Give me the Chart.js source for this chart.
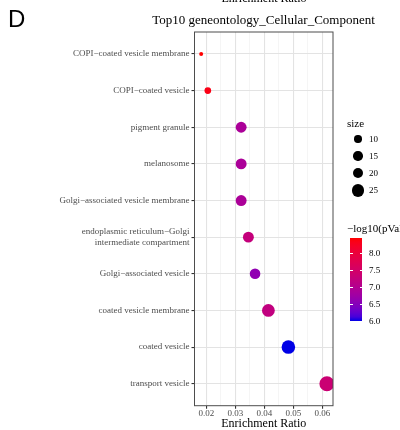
<!DOCTYPE html>
<html>
<head>
<meta charset="utf-8">
<script src="https://cdn.jsdelivr.net/npm/chart.js@4.4.1/dist/chart.umd.min.js"></script>
<style>
  html, body { margin: 0; padding: 0; background: #fff; overflow: hidden; }
  #wrap { position: relative; width: 400px; height: 430px; overflow: hidden; }
  #chart { position: absolute; left: 0; top: 0; }
  .txt { position: absolute; white-space: nowrap; font-family: "Liberation Serif", "Times New Roman", serif; color: #000; }
  .ctr { width: 400px; text-align: center; }
  .dot { position: absolute; background: #000; border-radius: 50%; }
  .tk  { position: absolute; background: #fff; height: 1px; width: 2.5px; }
</style>
</head>
<body>
<div id="wrap">
  <canvas id="chart" width="400" height="430"></canvas>
  <div class="txt ctr" style="left:64px; top:-8.5px; font-size:12px; line-height:12px;">Enrichment Ratio</div>
  <div class="txt" style="left:8px; top:6.7px; font-family:'Liberation Sans',Arial,sans-serif; font-size:24px; line-height:24px;">D</div>
  <div class="txt ctr" style="left:63.5px; top:13px; font-size:13px; line-height:14px;">Top10 geneontology_Cellular_Component</div>
  <div id="legend"></div>
</div>
<script>
// ---- data ----
const categories = [
  'COPI\u2212coated vesicle membrane',
  'COPI\u2212coated vesicle',
  'pigment granule',
  'melanosome',
  'Golgi\u2212associated vesicle membrane',
  'endoplasmic reticulum\u2212Golgi\nintermediate compartment',
  'Golgi\u2212associated vesicle',
  'coated vesicle membrane',
  'coated vesicle',
  'transport vesicle'
];
const enrichRatio = [0.0182, 0.0205, 0.032, 0.032, 0.032, 0.0345, 0.0368, 0.0414, 0.0483, 0.0616];
const geneCount   = [7, 9, 20, 20, 20, 20, 19, 28, 32, 40];
const negLogP     = [8.45, 8.35, 6.9, 6.9, 6.9, 7.25, 6.6, 7.2, 6.0, 7.35];

const xMajorTicks = [0.02, 0.03, 0.04, 0.05, 0.06];
const xMinorTicks = [0.025, 0.035, 0.045, 0.055];
const sizeBreaks  = [10, 15, 20, 25];
const colorBreaks = [6.0, 6.5, 7.0, 7.5, 8.0];

const SERIF = '"Liberation Serif", "Times New Roman", serif';

// ---- size scale (area-like, ggplot style) ----
const sMin = Math.min(...geneCount), sMax = Math.max(...geneCount);
const radius = s => 2 + 5.5 * Math.sqrt(Math.max(0, s - sMin) / (sMax - sMin));

// ---- colour scale: blue -> red interpolated in Lab ----
function hexRgb(h) { return [1, 3, 5].map(i => parseInt(h.substr(i, 2), 16)); }
function rgbLab(rgb) {
  const [r, g, b] = rgb.map(c => { c /= 255; return c <= 0.04045 ? c / 12.92 : Math.pow((c + 0.055) / 1.055, 2.4); });
  const x = (r * 0.4124 + g * 0.3576 + b * 0.1805) / 0.95047;
  const y = (r * 0.2126 + g * 0.7152 + b * 0.0722);
  const z = (r * 0.0193 + g * 0.1192 + b * 0.9505) / 1.08883;
  const f = t => t > 0.008856 ? Math.cbrt(t) : 7.787 * t + 16 / 116;
  const fx = f(x), fy = f(y), fz = f(z);
  return [116 * fy - 16, 500 * (fx - fy), 200 * (fy - fz)];
}
function labRgb([L, a, b]) {
  const fy = (L + 16) / 116, fx = fy + a / 500, fz = fy - b / 200;
  const fi = t => t * t * t > 0.008856 ? t * t * t : (t - 16 / 116) / 7.787;
  const x = fi(fx) * 0.95047, y = fi(fy), z = fi(fz) * 1.08883;
  const lin = [
    x * 3.2406 - y * 1.5372 - z * 0.4986,
    -x * 0.9689 + y * 1.8758 + z * 0.0415,
    x * 0.0557 - y * 0.2040 + z * 1.0570
  ];
  return lin.map(c => {
    c = c <= 0.0031308 ? 12.92 * c : 1.055 * Math.pow(c, 1 / 2.4) - 0.055;
    return Math.round(Math.max(0, Math.min(1, c)) * 255);
  });
}
const lowLab = rgbLab(hexRgb('#0000E6'));
const highLab = rgbLab(hexRgb('#FF0000'));
const pMin = Math.min(...negLogP), pMax = Math.max(...negLogP);
function pColor(v) {
  const t = Math.max(0, Math.min(1, (v - pMin) / (pMax - pMin)));
  return 'rgb(' + labRgb(lowLab.map((c, i) => c + (highLab[i] - c) * t)).join(',') + ')';
}

// ---- panel border (drawn over points like ggplot) ----
const panelBorder = {
  id: 'panelBorder',
  afterDatasetsDraw(chart) {
    const { ctx, chartArea: a } = chart;
    ctx.save();
    ctx.strokeStyle = '#4d4d4d';
    ctx.lineWidth = 1;
    ctx.strokeRect(a.left, a.top, a.right - a.left, a.bottom - a.top);
    ctx.restore();
  }
};

const points = enrichRatio.map((x, i) => ({ x, y: i }));

new Chart(document.getElementById('chart'), {
  type: 'scatter',
  data: {
    datasets: [{
      data: points,
      pointRadius: geneCount.map(radius),
      pointHoverRadius: geneCount.map(radius),
      pointBackgroundColor: negLogP.map(pColor),
      pointBorderWidth: 0,
      clip: 0,
    }]
  },
  options: {
    responsive: false,
    devicePixelRatio: 1,
    animation: false,
    layout: { padding: { top: 32, right: 67, left: 0, bottom: 0 } },
    plugins: { legend: { display: false }, tooltip: { enabled: false } },
    scales: {
      x: {
        type: 'linear',
        min: 0.0159,
        max: 0.0637,
        afterBuildTicks: s => { s.ticks = [...xMajorTicks, ...xMinorTicks].sort((a, b) => a - b).map(v => ({ value: v })); },
        afterFit: s => { s.height = 24.3; },
        border: { display: false },
        grid: {
          color: c => xMajorTicks.includes(c.tick?.value) ? '#e3e3e3' : '#eeeeee',
          lineWidth: c => xMajorTicks.includes(c.tick?.value) ? 1.1 : 0.6,
          tickColor: c => xMajorTicks.includes(c.tick?.value) ? '#333' : 'rgba(0,0,0,0)',
          tickLength: 3,
        },
        ticks: {
          autoSkip: false,
          maxRotation: 0,
          padding: 0,
          color: '#4d4d4d',
          font: { family: SERIF, size: 9 },
          callback: v => xMajorTicks.includes(v) ? v.toFixed(2) : '',
        },
        title: {
          display: true,
          text: 'Enrichment Ratio',
          color: '#000',
          padding: { top: 0, bottom: 0 },
          font: { family: SERIF, size: 12, lineHeight: 1 },
        },
      },
      y: {
        type: 'linear',
        min: -0.6,
        max: categories.length - 1 + 0.6,
        reverse: true,
        afterBuildTicks: s => { s.ticks = categories.map((_, i) => ({ value: i })); },
        afterFit: s => { s.width = 194.5; },
        border: { display: false },
        grid: { color: '#e3e3e3', lineWidth: 1.1, tickColor: '#333', tickLength: 3 },
        ticks: {
          autoSkip: false,
          padding: 2,
          color: '#4d4d4d',
          font: { family: SERIF, size: 9, lineHeight: 1.15 },
          callback: v => { const l = categories[v]; return l && l.includes('\n') ? l.split('\n') : l; },
        },
      },
    },
  },
  plugins: [panelBorder],
});

// ---- legends (html) ----
const legend = document.getElementById('legend');
function addText(txt, left, cy, size) {
  const d = document.createElement('div');
  d.className = 'txt';
  d.textContent = txt;
  d.style.left = left + 'px';
  d.style.fontSize = size + 'px';
  d.style.lineHeight = size + 'px';
  d.style.top = (cy - size / 2) + 'px';
  legend.appendChild(d);
}

addText('size', 347, 123, 11);
const sizeRowsY = [139, 156, 173, 190.5];
sizeBreaks.forEach((s, i) => {
  const r = radius(s);
  const d = document.createElement('div');
  d.className = 'dot';
  d.style.width = d.style.height = (2 * r) + 'px';
  d.style.left = (358 - r) + 'px';
  d.style.top = (sizeRowsY[i] - r) + 'px';
  legend.appendChild(d);
  addText(String(s), 369, sizeRowsY[i], 9);
});

addText('\u2212log10(pValue)', 347, 228, 11);
const barTop = 238, barBottom = 321, barLeft = 350, barW = 12;
const bar = document.createElement('div');
bar.style.cssText = `position:absolute;left:${barLeft}px;top:${barTop}px;width:${barW}px;height:${barBottom - barTop}px;`;
const stops = [];
for (let k = 0; k <= 20; k++) stops.push(pColor(pMin + (pMax - pMin) * k / 20) + ' ' + (k * 5) + '%');
bar.style.background = 'linear-gradient(to top,' + stops.join(',') + ')';
legend.appendChild(bar);
colorBreaks.forEach(v => {
  const y = barBottom - (v - pMin) / (pMax - pMin) * (barBottom - barTop);
  [barLeft, barLeft + barW - 2.5].forEach(x => {
    const t = document.createElement('div');
    t.className = 'tk';
    t.style.left = x + 'px';
    t.style.top = (y - 0.5) + 'px';
    legend.appendChild(t);
  });
  addText(v.toFixed(1), 369, y, 9);
});
</script>
</body>
</html>
